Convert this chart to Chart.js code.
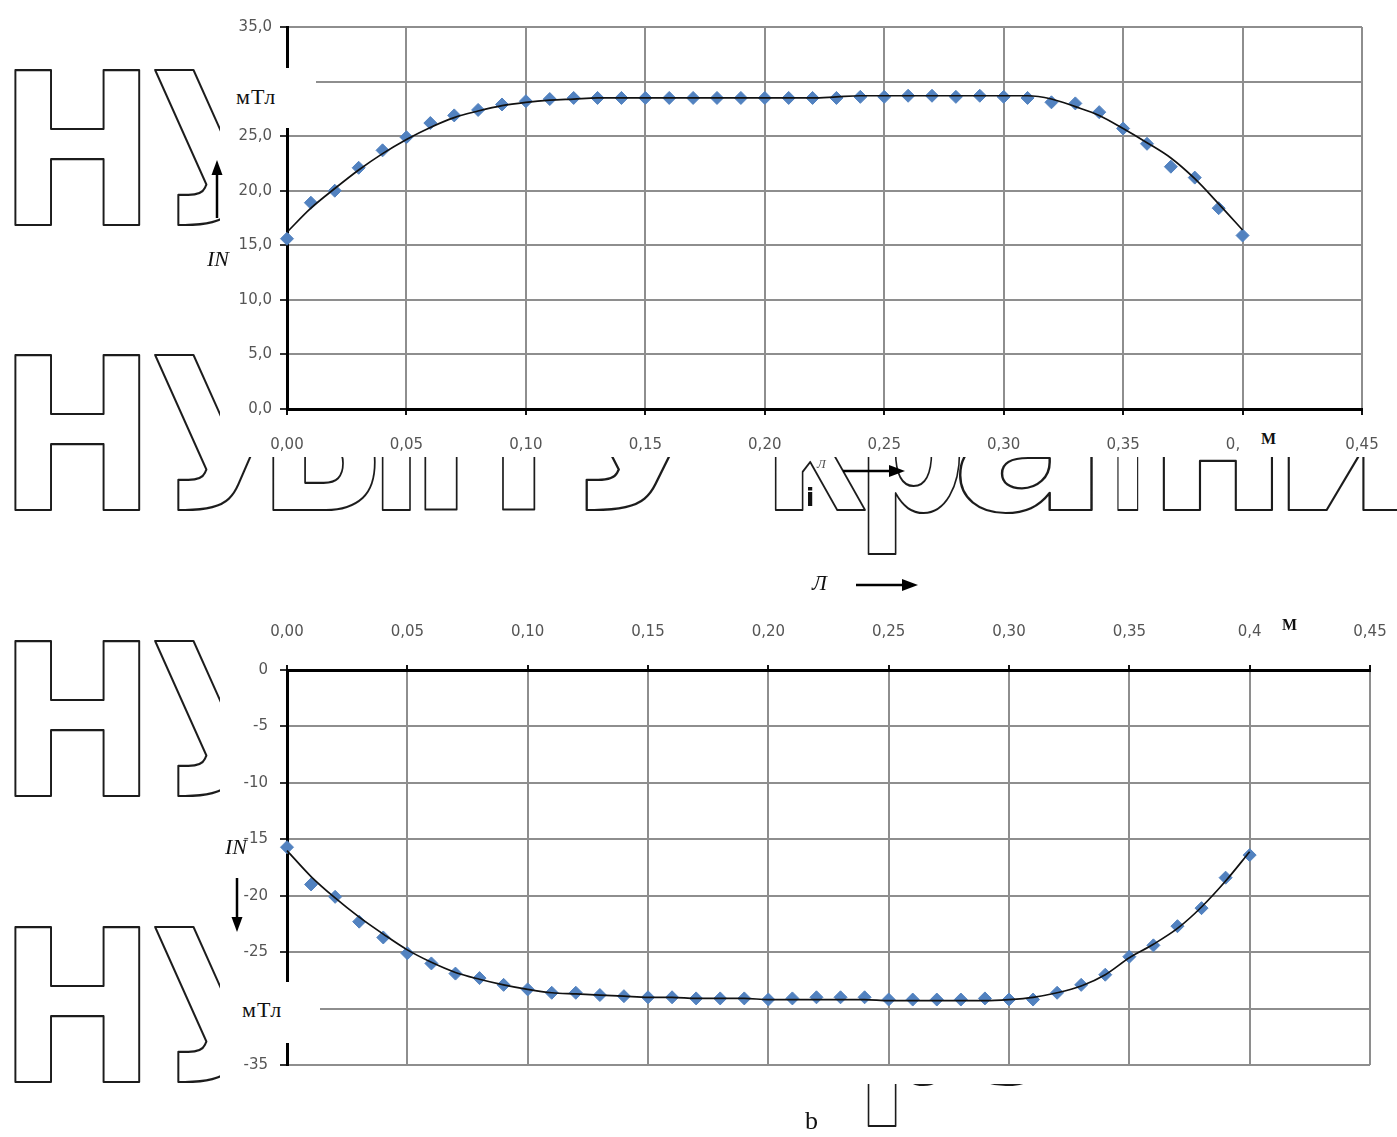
<!DOCTYPE html>
<html>
<head>
<meta charset="utf-8">
<script src="https://cdn.jsdelivr.net/npm/chart.js@4/dist/chart.umd.min.js"></script>
<style>
  html, body { margin: 0; padding: 0; background: #fff; }
  #page { position: relative; width: 1397px; height: 1137px; overflow: hidden; background: #fff; }
  canvas { position: absolute; left: 0; }
  #wm { top: 0; z-index: 0; }
  #topChart { top: 0; z-index: 1; }
  #botChart { top: 600px; z-index: 1; }
  .lbl { position: absolute; z-index: 3; font-family: "Liberation Serif", "Times New Roman", serif; color: #111; line-height: 1; white-space: nowrap; }
  .box { position: absolute; z-index: 2; background: #fff; }
  #marks { position: absolute; left: 0; top: 0; z-index: 3; pointer-events: none; }
</style>
</head>
<body>
<div id="page">
  <canvas id="wm" width="1397" height="1137"></canvas>
  <canvas id="topChart" width="1397" height="470"></canvas>
  <canvas id="botChart" width="1397" height="490"></canvas>

  <!-- unit boxes that interrupt the value axes -->
  <div class="box" style="left:228px;top:68px;width:88px;height:60px;"></div>
  <div class="lbl" style="left:236px;top:86px;font-size:22px;letter-spacing:1px;">мТл</div>
  <div class="box" style="left:228px;top:982px;width:92px;height:61px;"></div>
  <div class="lbl" style="left:242px;top:999px;font-size:22px;letter-spacing:1px;">мТл</div>

  <div class="lbl" style="left:207px;top:248px;font-size:22px;font-style:italic;">IN</div>
  <div class="lbl" style="left:225px;top:836px;font-size:22px;font-style:italic;">IN</div>

  <div class="box" style="left:1240px;top:428px;width:44px;height:24px;"></div>
  <div class="lbl" style="left:1261px;top:431px;font-size:16px;font-weight:bold;">М</div>
  <div class="lbl" style="left:1282px;top:617px;font-size:16px;font-weight:bold;">М</div>

  <div class="lbl" style="left:817px;top:457px;font-size:13px;font-style:italic;color:#555;">Л</div>
  <div class="lbl" style="left:806px;top:486px;font-size:24px;font-weight:bold;font-family:'DejaVu Sans',sans-serif;">і</div>
  <div class="lbl" style="left:812px;top:572px;font-size:22px;font-style:italic;">Л</div>
  <div class="lbl" style="left:805px;top:1108px;font-size:26px;">b</div>

  <svg id="marks" width="1397" height="1137">
    <g stroke="#000" stroke-width="2.5" fill="#000">
      <line x1="217" y1="172" x2="217" y2="218"/>
      <polygon points="217,160 211.5,175 222.5,175" stroke="none"/>
      <line x1="237" y1="878" x2="237" y2="920"/>
      <polygon points="237,932 231.5,917 242.5,917" stroke="none"/>
      <line x1="843" y1="471" x2="893" y2="471"/>
      <polygon points="905,471 889,465 889,477" stroke="none"/>
      <line x1="856" y1="585" x2="906" y2="585"/>
      <polygon points="918,585 902,579 902,591" stroke="none"/>
    </g>
  </svg>
</div>

<script>
// Sample positions along the coil, m
const positions = [0.00, 0.01, 0.02, 0.03, 0.04, 0.05, 0.06, 0.07, 0.08, 0.09,
                   0.10, 0.11, 0.12, 0.13, 0.14, 0.15, 0.16, 0.17, 0.18, 0.19,
                   0.20, 0.21, 0.22, 0.23, 0.24, 0.25, 0.26, 0.27, 0.28, 0.29,
                   0.30, 0.31, 0.32, 0.33, 0.34, 0.35, 0.36, 0.37, 0.38, 0.39, 0.40];

// Induction for positive current, mT
const topMeasured = [15.6, 18.9, 20.0, 22.1, 23.7, 24.9, 26.2, 26.9, 27.4, 27.9, 28.2, 28.4,
                     28.5, 28.5, 28.5, 28.5, 28.5, 28.5, 28.5, 28.5, 28.5, 28.5, 28.5, 28.5,
                     28.6, 28.6, 28.7, 28.7, 28.6, 28.7, 28.6,
                     28.5, 28.1, 28.0, 27.2, 25.7, 24.3, 22.2, 21.2, 18.4, 15.9];
const topTrend = [16.2, 18.4, 20.2, 21.9, 23.4, 24.7, 25.8, 26.7, 27.3, 27.8, 28.1, 28.3,
                  28.4, 28.5, 28.5, 28.5, 28.5, 28.5, 28.5, 28.5, 28.5, 28.5, 28.5, 28.6,
                  28.7, 28.7, 28.7, 28.7, 28.7, 28.7, 28.7,
                  28.7, 28.4, 27.7, 26.9, 25.7, 24.4, 23.0, 21.1, 18.8, 16.4];

// Induction for reversed current, mT
const botMeasured = [-15.7, -19.0, -20.1, -22.3, -23.7, -25.1, -26.0, -26.9, -27.3, -27.9, -28.3, -28.6, -28.6,
                     -28.8, -28.9, -29.0, -29.0, -29.1, -29.1, -29.1, -29.2, -29.1, -29.0, -29.0, -29.0,
                     -29.2, -29.2, -29.2, -29.2, -29.1, -29.2,
                     -29.2, -28.6, -27.9, -27.0, -25.4, -24.4, -22.7, -21.1, -18.4, -16.4];
const botTrend = [-16.0, -18.3, -20.2, -21.9, -23.4, -24.8, -25.9, -26.8, -27.4, -27.9, -28.3, -28.6, -28.7,
                  -28.8, -28.9, -29.0, -29.0, -29.1, -29.1, -29.1, -29.2, -29.2, -29.2, -29.2, -29.2,
                  -29.3, -29.3, -29.3, -29.3, -29.3, -29.2,
                  -29.0, -28.6, -28.0, -27.0, -25.5, -24.3, -22.9, -21.0, -18.7, -16.1];

// Tick labels
const topXTickLabels = ['0,00', '0,05', '0,10', '0,15', '0,20', '0,25', '0,30', '0,35', '0,40', '0,45'];
const botXTickLabels = ['0,00', '0,05', '0,10', '0,15', '0,20', '0,25', '0,30', '0,35', '0,4', '0,45'];
const topYTickLabels = ['0,0', '5,0', '10,0', '15,0', '20,0', '25,0', '30,0', '35,0'];
const botYTickLabels = ['-35', '-30', '-25', '-20', '-15', '-10', '-5', '0'];

// Outlined watermark lettering behind the charts
function drawWatermark() {
  const ctx = document.getElementById('wm').getContext('2d');
  ctx.font = 'bold 100px "DejaVu Sans"';
  const asc = ctx.measureText('Н').actualBoundingBoxAscent;
  const size = 155 / asc * 100;
  ctx.font = 'bold ' + size.toFixed(1) + 'px "DejaVu Sans"';
  ctx.strokeStyle = '#1c1c1c';
  ctx.lineWidth = 2.2;
  ctx.lineJoin = 'round';
  const glyphs = Array.from('НУБіП України');
  const spans = [[15, 140], [155, 295], [273, 375], [382, 410], [425, 535], null,
                 [560, 720], [775, 865], [868, 960], [960, 1092], [1110, 1145], [1163, 1272], [1288, 1400]];
  const baselines = [225, 510, 796, 1082];
  baselines.forEach(base => {
    glyphs.forEach((ch, i) => {
      const sp = spans[i];
      if (!sp) return;
      const m = ctx.measureText(ch);
      const inkW = m.actualBoundingBoxLeft + m.actualBoundingBoxRight;
      const sx = (sp[1] - sp[0]) / inkW;
      ctx.save();
      ctx.translate(sp[0] + m.actualBoundingBoxLeft * sx, base);
      ctx.scale(sx, 1);
      ctx.strokeText(ch, 0, 0);
      ctx.restore();
    });
  });
}
drawWatermark();

// White sheet under each chart
const paperPlugin = {
  id: 'paper',
  beforeDraw(chart, args, opts) {
    const ctx = chart.ctx;
    ctx.save();
    ctx.fillStyle = '#fff';
    ctx.fillRect(opts.x, opts.y, opts.w, opts.h);
    ctx.restore();
  }
};

const tickFont = { family: '"DejaVu Sans", sans-serif', size: 15 };
const tickColor = '#555';
const gridColor = '#8e8e8e';
const markerColor = '#5282c0';

function toPoints(vals) {
  return positions.map((x, i) => ({ x: x, y: vals[i] }));
}

function datasets(measured, trend) {
  return [
    {
      data: toPoints(trend),
      borderColor: '#111',
      borderWidth: 1.7,
      pointRadius: 0,
      cubicInterpolationMode: 'monotone',
      fill: false,
      clip: false,
      order: 1
    },
    {
      data: toPoints(measured),
      showLine: false,
      pointStyle: 'rectRot',
      pointRadius: 6.5,
      backgroundColor: markerColor,
      borderColor: markerColor,
      borderWidth: 1,
      clip: false,
      order: 2
    }
  ];
}

// keep the plot frame where the layout padding puts it
function fixX(h) {
  return s => { s.height = h; s.paddingLeft = 0; s.paddingRight = 0; };
}
function fixY(s) { s.width = 287; s.paddingTop = 0; s.paddingBottom = 0; }

new Chart(document.getElementById('topChart'), {
  type: 'line',
  data: { datasets: datasets(topMeasured, topTrend) },
  plugins: [paperPlugin],
  options: {
    responsive: false,
    animation: false,
    devicePixelRatio: 1,
    layout: { padding: { top: 27, right: 35, left: 0, bottom: 0 } },
    plugins: {
      legend: { display: false },
      tooltip: { enabled: false },
      paper: { x: 220, y: 0, w: 1177, h: 457 }
    },
    scales: {
      x: {
        type: 'linear', min: 0, max: 0.45,
        ticks: {
          stepSize: 0.05, padding: 21, font: tickFont, color: tickColor,
          maxRotation: 0, autoSkip: false,
          callback: v => topXTickLabels[Math.round(v / 0.05)] ?? ''
        },
        grid: { color: gridColor, lineWidth: 2, tickLength: 6, tickColor: '#111', tickWidth: 2 },
        border: { color: '#000', width: 3 },
        afterFit: fixX(61)
      },
      y: {
        min: 0, max: 35,
        ticks: {
          stepSize: 5, padding: 8, font: tickFont, color: tickColor,
          callback: v => topYTickLabels[Math.round(v / 5)] ?? ''
        },
        grid: { color: gridColor, lineWidth: 2, tickLength: 7, tickColor: '#333', tickWidth: 2 },
        border: { color: '#000', width: 3 },
        afterFit: fixY
      }
    }
  }
});

new Chart(document.getElementById('botChart'), {
  type: 'line',
  data: { datasets: datasets(botMeasured, botTrend) },
  plugins: [paperPlugin],
  options: {
    responsive: false,
    animation: false,
    devicePixelRatio: 1,
    layout: { padding: { top: 0, right: 27, left: 0, bottom: 25 } },
    plugins: {
      legend: { display: false },
      tooltip: { enabled: false },
      paper: { x: 220, y: 0, w: 1177, h: 484 }
    },
    scales: {
      x: {
        type: 'linear', position: 'top', min: 0, max: 0.45,
        ticks: {
          stepSize: 0.05, padding: 24, font: tickFont, color: tickColor,
          maxRotation: 0, autoSkip: false,
          callback: v => botXTickLabels[Math.round(v / 0.05)] ?? ''
        },
        grid: { color: gridColor, lineWidth: 2, tickLength: 5, tickColor: '#111', tickWidth: 2 },
        border: { color: '#000', width: 3 },
        afterFit: fixX(70)
      },
      y: {
        min: -35, max: 0,
        ticks: {
          stepSize: 5, padding: 12, font: tickFont, color: tickColor,
          callback: v => botYTickLabels[Math.round((v + 35) / 5)] ?? ''
        },
        grid: { color: gridColor, lineWidth: 2, tickLength: 7, tickColor: '#333', tickWidth: 2 },
        border: { color: '#000', width: 3 },
        afterFit: fixY
      }
    }
  }
});
</script>
</body>
</html>
